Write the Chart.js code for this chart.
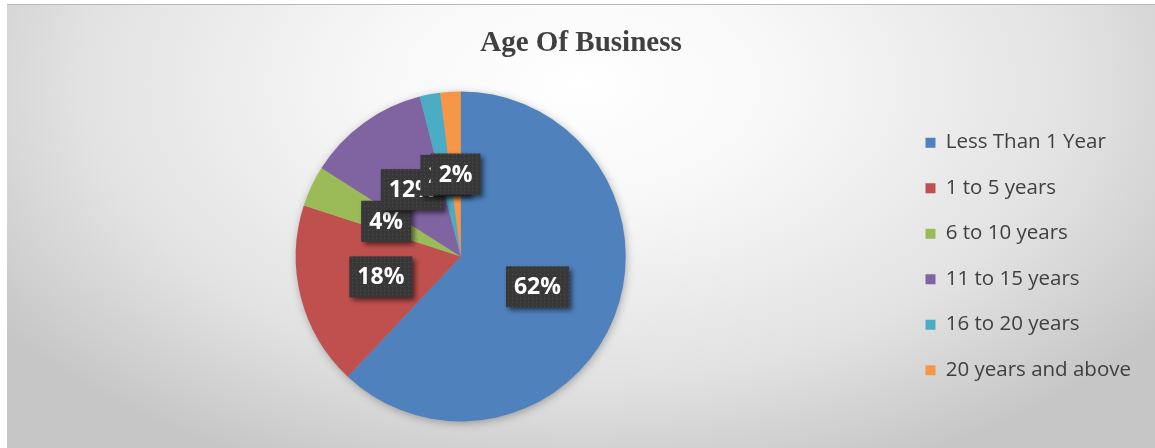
<!DOCTYPE html>
<html lang="en">
<head>
<meta charset="UTF-8">
<title>Age Of Business</title>
<script src="https://cdn.jsdelivr.net/npm/chart.js"></script>
<style>
    html, body {
        margin: 0;
        padding: 0;
        background: #fff;
    }
    .chart-box {
        position: absolute;
        left: 7px;
        top: 4px;
        width: 1148px;
        height: 444px;
        border-top: 1px solid #b9b9b9;
        box-sizing: border-box;
        background: radial-gradient(ellipse 62% 95% at 50% 18%, #ffffff 0%, #f7f7f7 30%, #e2e2e2 70%, #c6c6c6 100%);
    }
    #chart {
        display: block;
    }
</style>
</head>
<body>

<div class="chart-box">
    <canvas id="chart" width="1148" height="443"></canvas>
</div>

<script>
    // Данные
    const categories = ['Less Than 1 Year', '1 to 5 years', '6 to 10 years', '11 to 15 years', '16 to 20 years', '20 years and above'];
    const shares = [62, 18, 4, 12, 2, 2];
    const sliceColors = ['#4F81BD', '#C0504D', '#9BBB59', '#8064A2', '#4BACC6', '#F79646'];

    // Точечная заливка для подписей
    function dotPattern(ctx) {
        const c = document.createElement('canvas');
        c.width = 4; c.height = 4;
        const p = c.getContext('2d');
        p.fillStyle = '#383838';
        p.fillRect(0, 0, 4, 4);
        p.fillStyle = '#4e4e4e';
        p.fillRect(1, 1, 1, 1);
        return ctx.createPattern(c, 'repeat');
    }

    // Тень под кругом
    const pieShadow = {
        id: 'pieShadow',
        beforeDatasetsDraw(chart) {
            const arc = chart.getDatasetMeta(0).data[0];
            if (!arc) return;
            const ctx = chart.ctx;
            ctx.save();
            ctx.shadowColor = 'rgba(0,0,0,0.35)';
            ctx.shadowBlur = 10;
            ctx.shadowOffsetX = 1;
            ctx.shadowOffsetY = 2;
            ctx.fillStyle = '#9a9a9a';
            ctx.beginPath();
            ctx.arc(arc.x, arc.y, arc.outerRadius - 1, 0, Math.PI * 2);
            ctx.fill();
            ctx.restore();
        }
    };

    // Подписи процентов в тёмных плашках
    const boxLabels = {
        id: 'boxLabels',
        afterDatasetsDraw(chart) {
            const ctx = chart.ctx;
            const meta = chart.getDatasetMeta(0);
            const fill = dotPattern(ctx);
            ctx.save();
            ctx.font = 'bold 23px "Open Sans"';
            ctx.textAlign = 'center';
            ctx.textBaseline = 'middle';
            meta.data.forEach((arc, i) => {
                const pos = arc.tooltipPosition();
                const text = shares[i] + '%';
                const w = ctx.measureText(text).width + 16;
                const h = 41;
                ctx.save();
                ctx.shadowColor = 'rgba(0,0,0,0.55)';
                ctx.shadowBlur = 5;
                ctx.shadowOffsetX = 3;
                ctx.shadowOffsetY = 3;
                ctx.fillStyle = fill;
                ctx.fillRect(pos.x - w / 2, pos.y - h / 2, w, h);
                ctx.restore();
                ctx.fillStyle = '#ffffff';
                ctx.fillText(text, pos.x, pos.y + 1);
            });
            ctx.restore();
        }
    };

    new Chart(document.getElementById('chart'), {
        type: 'pie',
        data: {
            labels: categories,
            datasets: [{
                data: shares,
                backgroundColor: sliceColors,
                borderWidth: 0,
                radius: 165
            }]
        },
        options: {
            responsive: false,
            animation: false,
            layout: {
                padding: { left: 14, right: 14, top: 0, bottom: 27 }
            },
            plugins: {
                title: {
                    display: true,
                    text: 'Age Of Business',
                    color: '#404040',
                    font: { family: '"Liberation Serif"', size: 29, weight: 'bold' },
                    padding: { top: 21, bottom: 31 }
                },
                legend: {
                    position: 'right',
                    fullSize: false,
                    labels: {
                        color: '#404040',
                        font: { family: '"Open Sans"', size: 20.5 },
                        boxWidth: 10,
                        boxHeight: 10,
                        padding: 25
                    }
                },
                tooltip: { enabled: false }
            }
        },
        plugins: [pieShadow, boxLabels]
    });
</script>

</body>
</html>
